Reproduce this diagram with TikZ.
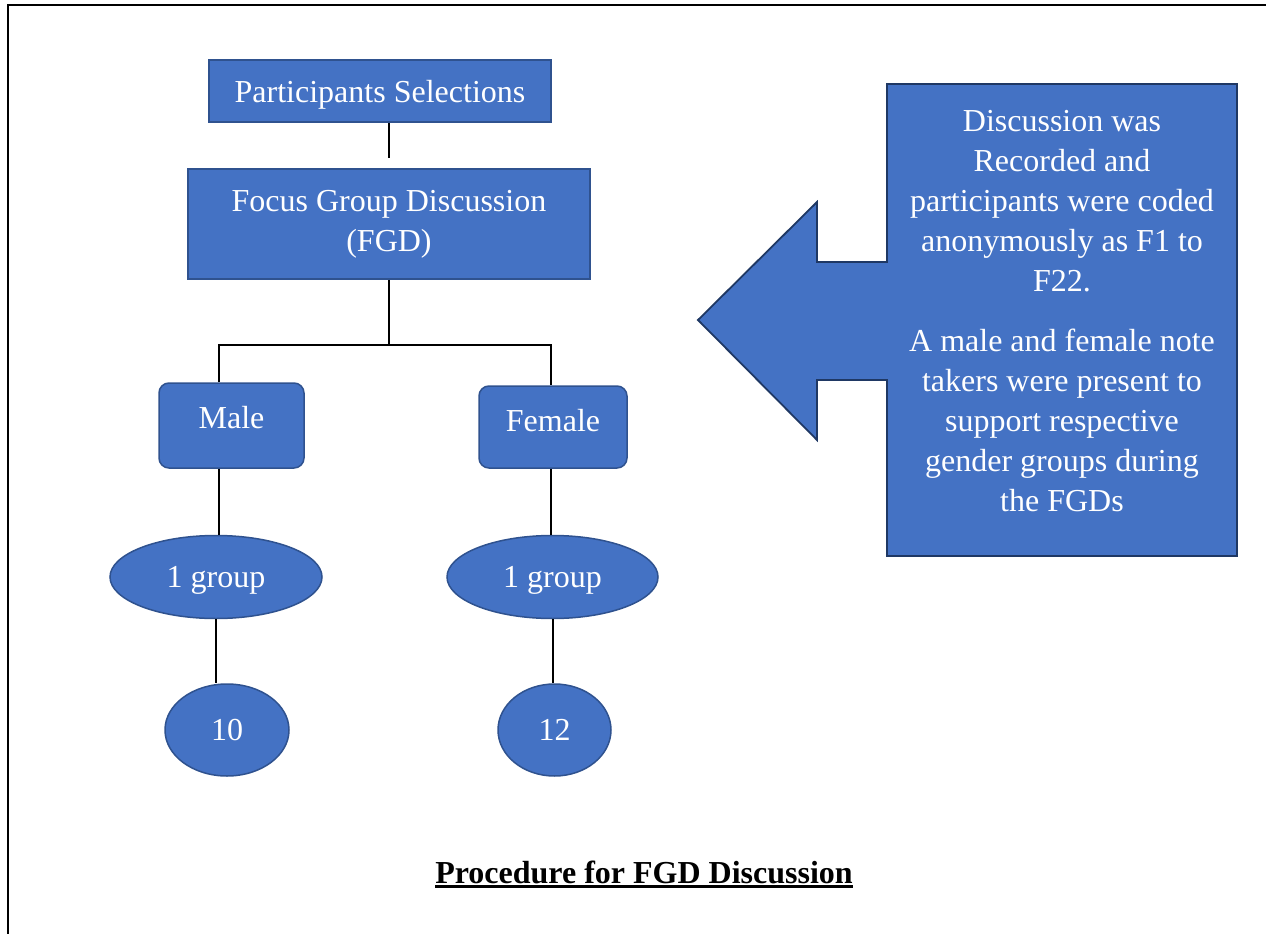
\documentclass[tikz,border=0pt]{standalone}
\usepackage{fontspec}
\setmainfont{Liberation Serif}
\usetikzlibrary{shapes.geometric}
\definecolor{fillblue}{HTML}{4472C4}
\definecolor{edgeblue}{HTML}{2F528F}
\definecolor{navy}{HTML}{1F3864}
\begin{document}
\begin{tikzpicture}[x=1pt,y=-1pt,
  big/.style={font=\fontsize{32}{40}\selectfont},
  box/.style={big, draw=edgeblue, fill=fillblue, line width=1.5pt, text=white, inner sep=0pt},
  oval/.style={box, ellipse},
  txt/.style={big, text=white, inner sep=0pt},
  conn/.style={draw=black, line width=2pt}]
\useasboundingbox (0,0) rectangle (1266,934);
% page frame
\draw[line width=2.5pt] (8,934) -- (8,5) -- (1266,5);
% tree nodes
\node[box, minimum width=342pt, minimum height=62pt, text depth=0pt] (ps) at (380,91) {Participants Selections};
\node[box, minimum width=402pt, minimum height=110pt] (fgd) at (389,224) {};
\node[txt, align=center] (fgdt) at (389,224) {Focus Group Discussion\\(FGD)};
\node[box, rounded corners=10pt, minimum width=145pt, minimum height=85pt, text depth=16pt] (male) at (231.5,425.5) {Male};
\node[box, rounded corners=10pt, minimum width=148pt, minimum height=82pt, text depth=14pt] (female) at (553,427) {Female};
\node[oval, minimum width=212pt, minimum height=83pt, text depth=0pt] (g1) at (216,577) {1 group};
\node[oval, minimum width=211pt, minimum height=83pt, text depth=0pt] (g2) at (552.5,577) {1 group};
\node[oval, minimum width=124pt, minimum height=92pt] (n10) at (227,730) {10};
\node[oval, minimum width=113pt, minimum height=92pt] (n12) at (554.5,730) {12};
% connectors
\coordinate (bl) at (219,345);
\coordinate (br) at (551,345);
\draw[conn] (ps.south -| fgd.north) -- ([yshift=10pt]fgd.north);
\draw[conn] (fgd.south) -- (fgd.south |- bl);
\draw[conn] (male.north -| bl) -- (bl) -- (br) -- (female.north -| br);
\draw[conn] (male.south -| bl) -- (g1.north -| bl);
\draw[conn] (female.south -| br) -- (g2.north -| br);
\draw[conn] (g1.south) -- (g1.south |- n10.north);
\draw[conn] (g2.south) -- (g2.south |- n12.north);
% callout arrow
\filldraw[fill=fillblue, draw=navy, line width=1.8pt, line join=miter]
  (887,84) -- (1237,84) -- (1237,556) -- (887,556) -- (887,380) -- (817,380)
  -- (817,440) -- (698,320) -- (817,202) -- (817,262) -- (887,262) -- cycle;
\node[txt, align=center, anchor=north] (note) at (1062,110)
  {Discussion was\\Recorded and\\participants were coded\\anonymously as F1 to\\F22.\\[20pt]A male and female note\\takers were present to\\support respective\\gender groups during\\the FGDs};
% title
\node[big, font=\bfseries\fontsize{32}{40}\selectfont, inner sep=0pt, anchor=base] (title) at (644,883) {Procedure for FGD Discussion};
\draw[line width=3pt] ([yshift=-3.5pt]title.base west) -- ([yshift=-3.5pt]title.base east);
\end{tikzpicture}
\end{document}
